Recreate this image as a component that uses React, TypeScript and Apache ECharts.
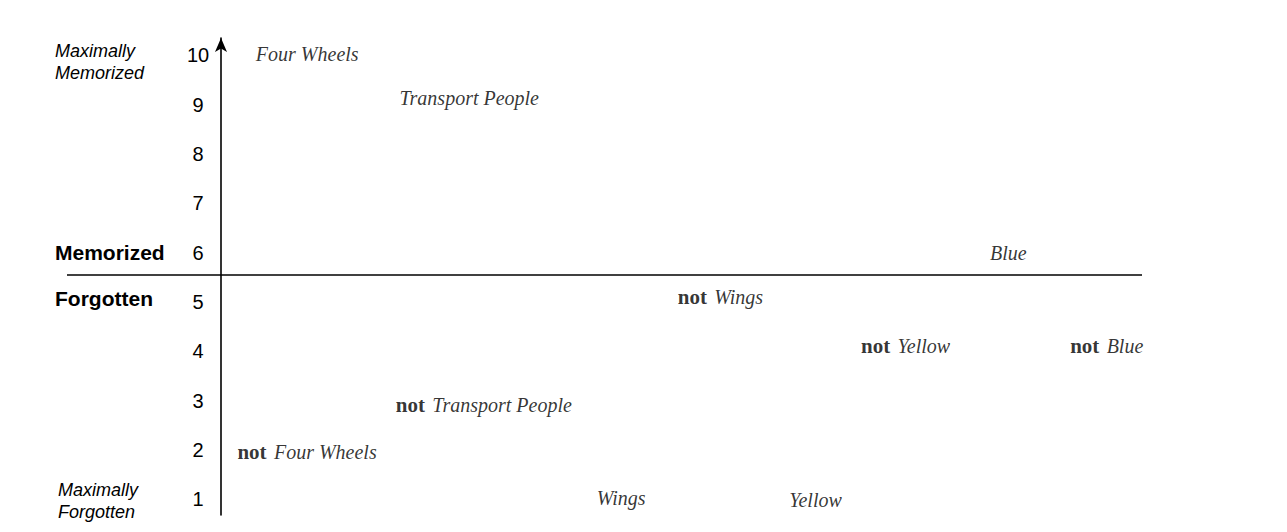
import React, { useEffect, useRef } from "react";
import * as echarts from "echarts";

// Concept labels placed on the memorization scale
const conceptNames = [
  "Four Wheels",
  "Transport People",
  "Blue",
  "Wings",
  "Yellow",
  "Blue",
  "Transport People",
  "Four Wheels",
  "Wings",
  "Yellow",
];
const negated = [false, false, false, true, true, true, true, true, false, false];
// horizontal placement (arbitrary spread units, 0 = vertical axis)
const spreadX = [3.8, 19.4, 83.5, 49.6, 69.5, 92.2, 19.0, 1.8, 40.8, 61.7];
// memorization score (1 = maximally forgotten, 10 = maximally memorized)
const scoreY = [10.03, 9.13, 6, 5.1, 4.1, 4.1, 2.9, 1.95, 1.02, 0.98];
const yTicks = [1, 2, 3, 4, 5, 6, 7, 8, 9, 10];
const thresholdY = 5.55;

export default function App() {
  const ref = useRef<HTMLDivElement>(null);
  useEffect(() => {
    if (!ref.current) return;
    const chart = echarts.init(ref.current, null, { renderer: "svg" });
    const data = conceptNames.map((n, i) => ({
      name: n,
      value: [spreadX[i], scoreY[i]],
      neg: negated[i],
    }));
    const xMin = -16.7;
    const xMax = 100;
    chart.setOption({
      animation: false,
      backgroundColor: "#fff",
      grid: { left: 67, right: 145, top: 38, bottom: 17, containLabel: false },
      xAxis: {
        type: "value",
        min: xMin,
        max: xMax,
        axisLine: { show: false },
        axisTick: { show: false },
        axisLabel: { show: false },
        splitLine: { show: false },
      },
      yAxis: {
        type: "value",
        min: 0.68,
        max: 10.35,
        offset: -154,
        axisLine: {
          show: true,
          onZero: false,
          symbol: ["none", "arrow"],
          symbolSize: [9, 14],
          lineStyle: { color: "#000", width: 1.6 },
        },
        axisTick: { show: false },
        splitLine: { show: false },
        axisLabel: {
          customValues: yTicks,
          margin: 23,
          align: "center",
          color: "#000",
          fontFamily: "Liberation Sans",
          fontSize: 20,
        },
      },
      series: [
        {
          type: "scatter",
          symbolSize: 0,
          data,
          label: {
            show: true,
            position: "right",
            distance: 0,
            color: "#000",
            formatter: (p: any) =>
              p.data.neg ? `{b|not} {i|${p.name}}` : `{i|${p.name}}`,
            rich: {
              b: {
                fontFamily: "Liberation Serif",
                fontWeight: "bold",
                fontSize: 21,
                color: "#000",
                padding: [0, 4, 0, 0],
              },
              i: {
                fontFamily: "Liberation Serif",
                fontStyle: "italic",
                fontSize: 20,
                color: "#000",
              },
            },
          },
          markLine: {
            silent: true,
            symbol: ["none", "none"],
            label: { show: false },
            lineStyle: { color: "#000", width: 1.5, type: "solid" },
            data: [
              [
                { coord: [xMin, thresholdY] },
                { coord: [xMax, thresholdY] },
              ],
            ],
          },
        },
      ],
      graphic: [
        {
          type: "text",
          left: 55,
          top: 40,
          style: {
            text: "Maximally\nMemorized",
            fontFamily: "Liberation Sans",
            fontStyle: "italic",
            fontSize: 18,
            lineHeight: 22,
            fill: "#000",
          },
        },
        {
          type: "text",
          left: 55,
          top: 242,
          style: {
            text: "Memorized",
            fontFamily: "Liberation Sans",
            fontWeight: "bold",
            fontSize: 21,
            fill: "#000",
          },
        },
        {
          type: "text",
          left: 55,
          top: 288,
          style: {
            text: "Forgotten",
            fontFamily: "Liberation Sans",
            fontWeight: "bold",
            fontSize: 21,
            fill: "#000",
          },
        },
        {
          type: "text",
          left: 58,
          top: 479,
          style: {
            text: "Maximally\nForgotten",
            fontFamily: "Liberation Sans",
            fontStyle: "italic",
            fontSize: 18,
            lineHeight: 22,
            fill: "#000",
          },
        },
      ],
    });
    return () => chart.dispose();
  }, []);
  return (
    <div
      ref={ref}
      style={{ position: "fixed", left: 0, top: 0, width: 1287, height: 532 }}
    />
  );
}
